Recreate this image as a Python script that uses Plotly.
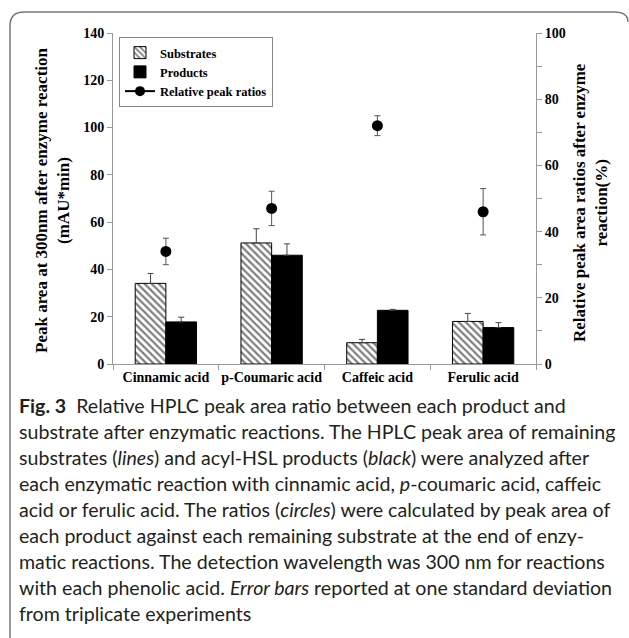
import plotly.graph_objects as go

categories = ["Cinnamic acid", "p-Coumaric acid", "Caffeic acid", "Ferulic acid"]
substrates = [34.1, 51.2, 9.0, 18.0]
substrates_sd = [4.2, 6.0, 1.4, 3.4]
products = [17.8, 46.0, 22.7, 15.4]
products_sd = [2.0, 4.8, 0.4, 2.1]
ratios = [34.0, 47.0, 72.0, 46.0]
ratios_sd = [4.0, 5.2, 3.0, 7.0]
left_ticks = [0, 20, 40, 60, 80, 100, 120, 140]
right_ticks = [0, 20, 40, 60, 80, 100]

caption_lines = [
    "<b>Fig. 3</b>  Relative HPLC peak area ratio between each product and",
    "substrate after enzymatic reactions. The HPLC peak area of remaining",
    "substrates (<i>lines</i>) and acyl-HSL products (<i>black</i>) were analyzed after",
    "each enzymatic reaction with cinnamic acid, <i>p</i>-coumaric acid, caffeic",
    "acid or ferulic acid. The ratios (<i>circles</i>) were calculated by peak area of",
    "each product against each remaining substrate at the end of enzy-",
    "matic reactions. The detection wavelength was 300 nm for reactions",
    "with each phenolic acid. <i>Error bars</i> reported at one standard deviation",
    "from triplicate experiments",
]

W, H = 629, 638
L, R, T, B = 113, 536, 33, 364


def px(xp):
    return (xp - L) / (R - L)


def py(yp):
    return (B - yp) / (B - T)


SERIF = "Liberation Serif, Times New Roman, serif"
SANS = "Lato, Roboto, sans-serif"

fig = go.Figure()
fig.add_trace(go.Bar(
    name="Substrates", x=categories, y=substrates,
    marker=dict(color="white", line=dict(color="black", width=1),
                pattern=dict(shape="\\", fgcolor="black", bgcolor="white", size=5, solidity=0.45)),
    error_y=dict(type="data", array=substrates_sd, arrayminus=[0] * 4, symmetric=False,
                 color="#444", thickness=1, width=3),
))
fig.add_trace(go.Bar(
    name="Products", x=categories, y=products,
    marker=dict(color="black", line=dict(color="black", width=1)),
    error_y=dict(type="data", array=products_sd, arrayminus=[0] * 4, symmetric=False,
                 color="#444", thickness=1, width=3),
))
fig.add_trace(go.Scatter(
    name="Relative peak ratios", x=categories, y=ratios, yaxis="y2", mode="markers",
    marker=dict(color="black", size=11), showlegend=False,
    error_y=dict(type="data", array=ratios_sd, color="#555", thickness=1, width=3),
))
fig.add_trace(go.Scatter(
    name="Relative peak ratios", x=[None], y=[None], yaxis="y2", mode="lines+markers",
    marker=dict(color="black", size=10), line=dict(color="black", width=2),
))

annotations = [
    dict(text="Peak area at 300nm after enzyme reaction<br>(mAU*min)", textangle=-90,
         xref="paper", yref="paper", x=px(52), y=py(200), xanchor="center", yanchor="middle",
         showarrow=False, font=dict(family=SERIF, size=17, weight="bold")),
    dict(text="Relative peak area ratios after enzyme<br>reaction(%)", textangle=-90,
         xref="paper", yref="paper", x=px(591), y=py(203), xanchor="center", yanchor="middle",
         showarrow=False, font=dict(family=SERIF, size=17, weight="bold")),
]
for i, line in enumerate(caption_lines):
    annotations.append(dict(
        text=line, xref="paper", yref="paper", x=px(17), y=py(405 + 26 * i),
        xanchor="left", yanchor="middle", align="left", showarrow=False,
        font=dict(family=SANS, size=19.6, color="#231f20")))

fig.update_layout(
    width=W, height=H,
    margin=dict(l=L, r=W - R, t=T, b=H - B),
    paper_bgcolor="white", plot_bgcolor="white",
    barmode="group", bargap=0.42, bargroupgap=0,
    font=dict(family=SERIF, color="black"),
    showlegend=True,
    legend=dict(x=px(119), y=py(37), xanchor="left", yanchor="top",
                bordercolor="#888", borderwidth=1, bgcolor="white",
                font=dict(family=SERIF, size=12.5, weight="bold"),
                tracegroupgap=0, itemwidth=30),
    xaxis=dict(showline=True, linecolor="#999", linewidth=1, ticks="outside",
               tickson="boundaries", ticklen=5, tickcolor="#999", tickangle=0,
               tickfont=dict(family=SERIF, size=14, weight="bold"),
               showgrid=False, zeroline=False),
    yaxis=dict(range=[0, 140], tickvals=left_ticks, showline=True, linecolor="#999",
               linewidth=1, ticks="outside", ticklen=5, tickcolor="#999",
               tickfont=dict(family=SERIF, size=14, weight="bold"),
               showgrid=False, zeroline=False),
    yaxis2=dict(range=[0, 100], tickvals=right_ticks, overlaying="y", side="right",
                showline=True, linecolor="#999", linewidth=1, ticks="outside",
                ticklen=5, tickcolor="#999",
                minor=dict(dtick=10, ticks="outside", ticklen=5, tickcolor="#999"),
                tickfont=dict(family=SERIF, size=14, weight="bold"),
                showgrid=False, zeroline=False),
    annotations=annotations,
    shapes=[
        dict(type="path", xref="paper", yref="paper",
             path="M {} {} L {} {} Q {} {} {} {} L {} {} Q {} {} {} {}".format(
                 px(10), py(638), px(10), py(26), px(10), py(12), px(24), py(12),
                 px(614), py(12), px(628), py(12), px(628), py(22)),
             line=dict(color="#777", width=1.5)),
    ],
)

fig.write_html("out.html")
